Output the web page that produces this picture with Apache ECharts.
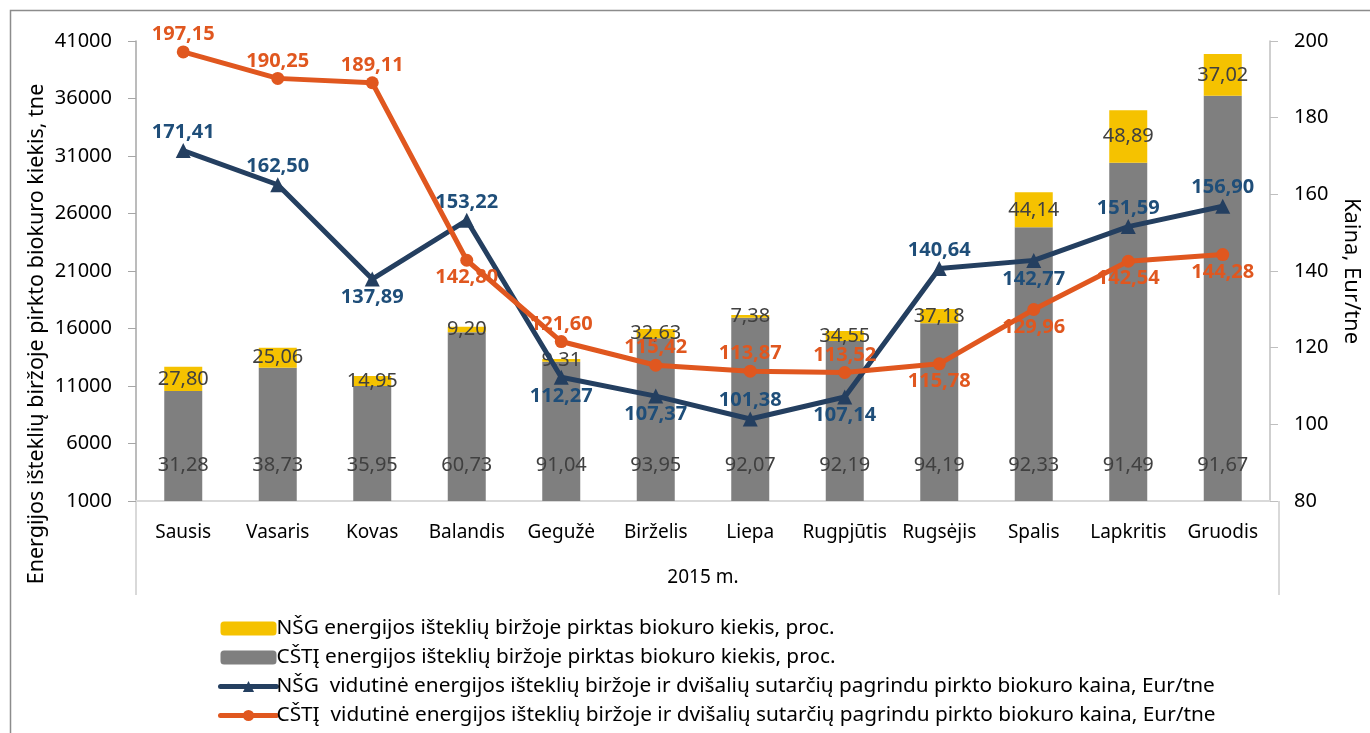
<!DOCTYPE html>
<html>
<head>
<meta charset="utf-8">
<script src="https://cdn.jsdelivr.net/npm/echarts@6/dist/echarts.min.js"></script>
<style>
  html, body { margin: 0; padding: 0; background: #fff; }
  #chart { width: 1370px; height: 733px; }
</style>
</head>
<body>
<div id="chart"></div>
<script>
// 2015 m. menesiai
const months = ['Sausis', 'Vasaris', 'Kovas', 'Balandis', 'Gegužė', 'Birželis', 'Liepa', 'Rugpjūtis', 'Rugsėjis', 'Spalis', 'Lapkritis', 'Gruodis']

// kiekis, tne
const cstjAmount = [10570, 12590, 11000, 15670, 13110, 15150, 16940, 14910, 16450, 24800, 30420, 36240]
const nsgAmount = [2110, 1740, 870, 490, 240, 810, 240, 870, 1240, 3040, 4560, 3630]

// proc. labels shown on bars
const cstjPct = ['31,28', '38,73', '35,95', '60,73', '91,04', '93,95', '92,07', '92,19', '94,19', '92,33', '91,49', '91,67']
const nsgPct = ['27,80', '25,06', '14,95', '9,20', '9,31', '32,63', '7,38', '34,55', '37,18', '44,14', '48,89', '37,02']

// kaina, Eur/tne
const nsgPrice = [171.41, 162.50, 137.89, 153.22, 112.27, 107.37, 101.38, 107.14, 140.64, 142.77, 151.59, 156.90]
const cstjPrice = [197.15, 190.25, 189.11, 142.80, 121.60, 115.42, 113.87, 113.52, 115.78, 129.96, 142.54, 144.28]

// left axis ticks
const amountTicks = [1000, 6000, 11000, 16000, 21000, 26000, 31000, 36000, 41000]

// where each price label sits
const nsgLabelPos = ['top', 'top', 'bottom', 'top', 'bottom', 'bottom', 'top', 'bottom', 'top', 'bottom', 'top', 'top']
const cstjLabelPos = ['top', 'top', 'top', 'bottom', 'top', 'top', 'top', 'top', 'bottom', 'bottom', 'bottom', 'bottom']

const FONT = 'Noto Sans'
const names = {
  nsgBar: 'NŠG energijos išteklių biržoje pirktas biokuro kiekis, proc.',
  cstjBar: 'CŠTĮ energijos išteklių biržoje pirktas biokuro kiekis, proc.',
  nsgLine: 'NŠG  vidutinė energijos išteklių biržoje ir dvišalių sutarčių pagrindu pirkto biokuro kaina, Eur/tne',
  cstjLine: 'CŠTĮ  vidutinė energijos išteklių biržoje ir dvišalių sutarčių pagrindu pirkto biokuro kaina, Eur/tne',
}

const fmt = v => v.toFixed(2).replace('.', ',')

function priceData(values, positions) {
  return values.map((v, i) => ({
    value: v,
    label: {position: positions[i]},
  }))
}

const chart = echarts.init(document.getElementById('chart'), null, {renderer: 'canvas'})

chart.setOption({
  animation: false,
  textStyle: {fontFamily: FONT},
  grid: {
    left: 136,
    right: 91,
    top: 41,
    bottom: 232,
  },
  legend: {
    orient: 'vertical',
    left: 213,
    top: 613,
    itemWidth: 56,
    itemHeight: 14,
    itemGap: 8,
    data: [names.nsgBar, names.cstjBar, names.nsgLine, names.cstjLine],
    lineStyle: {width: 5, cap: 'round'},
    textStyle: {
      fontFamily: FONT,
      fontSize: 20.8,
      color: '#000',
      padding: [0, 0, 0, -5],
    },
  },
  xAxis: {
    type: 'category',
    data: months,
    axisTick: {show: false},
    axisLine: {lineStyle: {color: '#d9d9d9', width: 2}},
    axisLabel: {
      interval: 0,
      fontFamily: FONT,
      fontSize: 19,
      color: '#000',
      margin: 22,
    },
    name: '2015 m.',
    nameLocation: 'middle',
    nameGap: 67,
    nameTextStyle: {fontFamily: FONT, fontSize: 19, color: '#000'},
  },
  yAxis: [
    {
      type: 'value',
      min: 1000,
      max: 41000,
      splitLine: {show: false},
      axisLine: {show: true, lineStyle: {color: '#a6a6a6', width: 1.5}},
      axisTick: {show: true, length: 8, customValues: amountTicks, lineStyle: {color: '#a6a6a6'}},
      axisLabel: {
        customValues: amountTicks,
        formatter: v => String(v),
        fontFamily: FONT,
        fontSize: 20,
        color: '#000',
        margin: 24,
      },
    },
    {
      type: 'value',
      min: 80,
      max: 200,
      interval: 20,
      position: 'right',
      splitLine: {show: false},
      axisLine: {show: true, lineStyle: {color: '#bfbfbf', width: 1.5}},
      axisTick: {show: true, length: 8, lineStyle: {color: '#bfbfbf'}},
      axisLabel: {fontFamily: FONT, fontSize: 20, color: '#000', margin: 24},
      name: 'Kaina, Eur/tne',
      nameLocation: 'middle',
      nameRotate: -90,
      nameGap: 70,
      nameTextStyle: {fontFamily: FONT, fontSize: 22, color: '#000'},
    },
  ],
  graphic: [
    {
      type: 'rect',
      shape: {x: 10.5, y: 10.5, width: 1400, height: 800},
      style: {fill: null, stroke: '#8c8c8c', lineWidth: 1.5},
      silent: true,
    },
    {
      type: 'line',
      shape: {x1: 136, y1: 501, x2: 136, y2: 595},
      style: {stroke: '#d9d9d9', lineWidth: 2},
    },
    {
      type: 'line',
      shape: {x1: 1279, y1: 501, x2: 1279, y2: 595},
      style: {stroke: '#d9d9d9', lineWidth: 2},
    },
    {
      type: 'text',
      x: 37,
      y: 334,
      rotation: Math.PI / 2,
      style: {
        text: 'Energijos išteklių biržoje pirkto biokuro kiekis, tne',
        font: '21.5px "Noto Sans"',
        fill: '#000',
        textAlign: 'center',
        textVerticalAlign: 'middle',
      },
    },
  ],
  series: [
    {
      name: names.cstjBar,
      type: 'bar',
      stack: 'kiekis',
      barWidth: 38,
      itemStyle: {color: '#7f7f7f'},
      label: {
        show: true,
        position: 'insideBottom',
        distance: 26,
        fontFamily: FONT,
        fontSize: 20,
        color: '#404040',
        formatter: p => cstjPct[p.dataIndex],
      },
      data: cstjAmount,
    },
    {
      name: names.nsgBar,
      type: 'bar',
      stack: 'kiekis',
      barWidth: 38,
      itemStyle: {color: '#f5c200'},
      label: {
        show: true,
        position: 'inside',
        fontFamily: FONT,
        fontSize: 20,
        color: '#404040',
        formatter: p => nsgPct[p.dataIndex],
      },
      data: nsgAmount,
    },
    {
      name: names.nsgLine,
      type: 'line',
      yAxisIndex: 1,
      symbol: 'triangle',
      symbolSize: 15,
      lineStyle: {color: '#243f60', width: 5},
      itemStyle: {color: '#243f60'},
      label: {
        show: true,
        distance: 1,
        fontFamily: FONT,
        fontWeight: 'bold',
        fontSize: 20,
        color: '#1f4e79',
        formatter: p => fmt(p.value),
      },
      data: priceData(nsgPrice, nsgLabelPos),
      z: 3,
    },
    {
      name: names.cstjLine,
      type: 'line',
      yAxisIndex: 1,
      symbol: 'circle',
      symbolSize: 13,
      lineStyle: {color: '#e0571f', width: 5},
      itemStyle: {color: '#e0571f'},
      label: {
        show: true,
        distance: 1,
        fontFamily: FONT,
        fontWeight: 'bold',
        fontSize: 20,
        color: '#e0571f',
        formatter: p => fmt(p.value),
      },
      data: priceData(cstjPrice, cstjLabelPos),
      z: 4,
    },
  ],
})
</script>
</body>
</html>
